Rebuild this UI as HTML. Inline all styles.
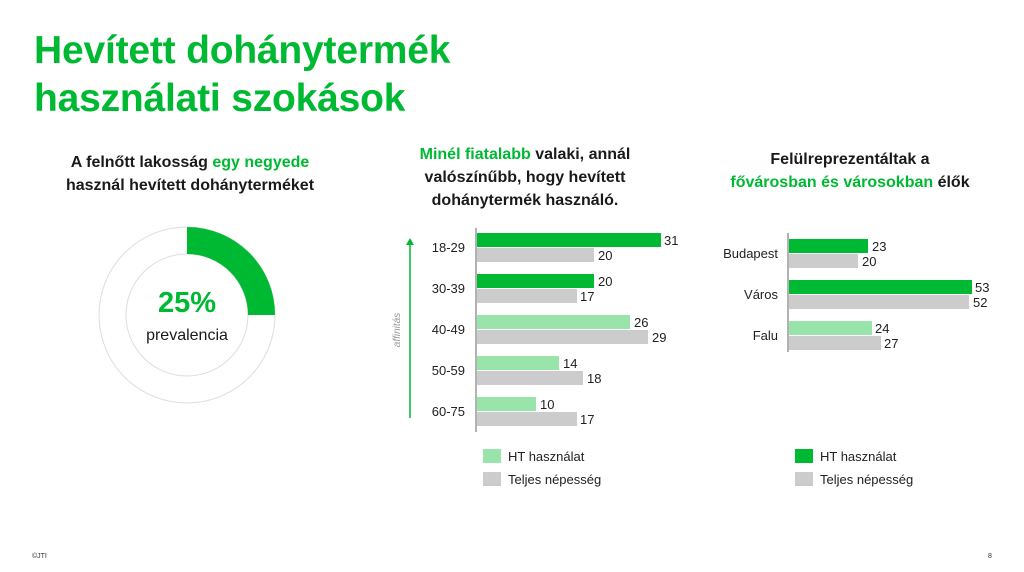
<!DOCTYPE html>
<html><head><meta charset="utf-8"><style>
body{margin:0;width:1024px;height:572px;background:#fff;font-family:"Liberation Sans",sans-serif;position:relative;overflow:hidden;color:#1a1a1a}
.a{position:absolute}
.g{color:#00b932}
h1{position:absolute;left:34px;top:27px;margin:0;font-size:39px;line-height:48px;color:#00b932;font-weight:bold;letter-spacing:-0.2px}
.h{position:absolute;font-weight:bold;font-size:16px;line-height:23px;text-align:center}
</style></head><body>
<h1>Hevített dohánytermék<br>használati szokások</h1>
<div class="h" style="left:40px;top:151px;width:300px">A felnőtt lakosság <span class="g">egy negyede</span><br>használ hevített dohányterméket</div>
<div class="h" style="left:380px;top:143px;width:290px"><span class="g">Minél fiatalabb</span> valaki, annál<br>valószínűbb, hogy hevített<br>dohánytermék használó.</div>
<div class="h" style="left:700px;top:148px;width:300px">Felülreprezentáltak a<br><span class="g">fővárosban és városokban</span> élők</div>
<svg class="a" style="left:0;top:0" width="1024" height="572" font-family="Liberation Sans, sans-serif">
<circle cx="187" cy="315" r="88" fill="none" stroke="#ddd" stroke-width="1"/>
<circle cx="187" cy="315" r="61" fill="none" stroke="#ddd" stroke-width="1"/>
<path d="M187 227 A88 88 0 0 1 275 315 L248 315 A61 61 0 0 0 187 254 Z" fill="#00b932"/>
<text x="187" y="312" text-anchor="middle" font-size="29" font-weight="bold" fill="#00b932">25%</text>
<text x="187" y="340" text-anchor="middle" font-size="16" fill="#1a1a1a">prevalencia</text>
<line x1="476" y1="228" x2="476" y2="432" stroke="#666" stroke-width="1"/>
<line x1="410" y1="418" x2="410" y2="243" stroke="#00b932" stroke-width="1.5"/>
<path d="M406 245 L410 238 L414 245 Z" fill="#00b932"/>
<text transform="translate(400,330) rotate(-90)" text-anchor="middle" font-size="10" font-style="italic" fill="#999">affinitás</text>
<g font-size="13" fill="#222">
<rect x="477" y="233" width="184" height="14" fill="#00b932"/><rect x="477" y="248" width="117" height="14" fill="#ccc"/>
<text x="664" y="245">31</text><text x="598" y="260">20</text><text x="465" y="252" text-anchor="end">18-29</text>
<rect x="477" y="274" width="117" height="14" fill="#00b932"/><rect x="477" y="289" width="100" height="14" fill="#ccc"/>
<text x="598" y="286">20</text><text x="580" y="301">17</text><text x="465" y="293" text-anchor="end">30-39</text>
<rect x="477" y="315" width="153" height="14" fill="#98e4aa"/><rect x="477" y="330" width="171" height="14" fill="#ccc"/>
<text x="634" y="327">26</text><text x="652" y="342">29</text><text x="465" y="334" text-anchor="end">40-49</text>
<rect x="477" y="356" width="82" height="14" fill="#98e4aa"/><rect x="477" y="371" width="106" height="14" fill="#ccc"/>
<text x="563" y="368">14</text><text x="587" y="383">18</text><text x="465" y="375" text-anchor="end">50-59</text>
<rect x="477" y="397" width="59" height="14" fill="#98e4aa"/><rect x="477" y="412" width="100" height="14" fill="#ccc"/>
<text x="540" y="409">10</text><text x="580" y="424">17</text><text x="465" y="416" text-anchor="end">60-75</text>
<rect x="483" y="449" width="18" height="14" fill="#98e4aa"/><text x="508" y="461">HT használat</text>
<rect x="483" y="472" width="18" height="14" fill="#ccc"/><text x="508" y="484">Teljes népesség</text>
<line x1="788" y1="233" x2="788" y2="352" stroke="#666" stroke-width="1"/>
<rect x="789" y="239" width="79" height="14" fill="#00b932"/><rect x="789" y="254" width="69" height="14" fill="#ccc"/>
<text x="872" y="251">23</text><text x="862" y="266">20</text><text x="778" y="258" text-anchor="end">Budapest</text>
<rect x="789" y="280" width="183" height="14" fill="#00b932"/><rect x="789" y="295" width="180" height="14" fill="#ccc"/>
<text x="975" y="292">53</text><text x="973" y="307">52</text><text x="778" y="299" text-anchor="end">Város</text>
<rect x="789" y="321" width="83" height="14" fill="#98e4aa"/><rect x="789" y="336" width="92" height="14" fill="#ccc"/>
<text x="875" y="333">24</text><text x="884" y="348">27</text><text x="778" y="340" text-anchor="end">Falu</text>
<rect x="795" y="449" width="18" height="14" fill="#00b932"/><text x="820" y="461">HT használat</text>
<rect x="795" y="472" width="18" height="14" fill="#ccc"/><text x="820" y="484">Teljes népesség</text>
</g>
<text x="32" y="558" font-size="7" fill="#333">©JTI</text>
<text x="988" y="558" font-size="7" fill="#333">8</text>
</svg>
</body></html>
